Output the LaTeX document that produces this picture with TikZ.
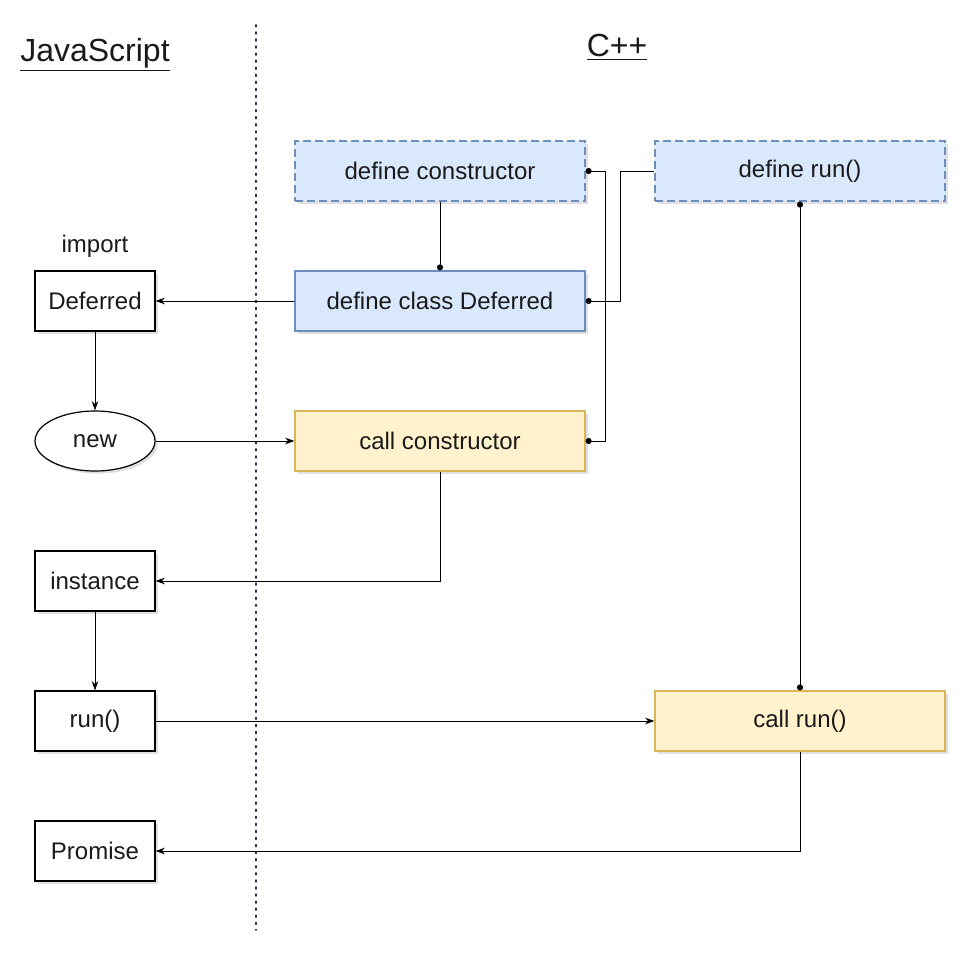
\documentclass[tikz,border=0pt]{standalone}
\usepackage{fontspec}
\setmainfont{Liberation Sans}
\usetikzlibrary{shapes.geometric, arrows.meta, positioning, shadows}
\definecolor{defBlue}{RGB}{218,232,252}
\definecolor{defBlueLine}{RGB}{108,142,191}
\definecolor{callYellow}{RGB}{255,242,204}
\definecolor{callYellowLine}{RGB}{214,182,86}
\definecolor{sideLine}{RGB}{40,40,70}
\definecolor{textDark}{RGB}{26,26,26}

\tikzset{
  boxshadow/.style={drop shadow={shadow xshift=2pt, shadow yshift=-2pt, fill=black, opacity=0.12}},
  jsbox/.style={draw, fill=white, line width=0.9pt, minimum width=90pt, minimum height=45pt,
    inner sep=0pt, text=textDark, font=\fontsize{18}{20}\selectfont, boxshadow},
  defbox/.style={draw=defBlueLine, fill=defBlue, line width=0.9pt, minimum width=217.5pt,
    minimum height=45pt, inner sep=0pt, text=textDark, font=\fontsize{18}{20}\selectfont, boxshadow},
  callbox/.style={defbox, draw=callYellowLine, fill=callYellow},
  arr/.style={-{Stealth[length=7pt, width=5pt]}, line width=0.75pt},
  dotend/.style={-{Circle[length=4.5pt]}, line width=0.75pt},
  dotboth/.style={{Circle[length=4.5pt]}-{Circle[length=4.5pt]}, line width=0.75pt}
}

\begin{document}
\begin{tikzpicture}[x=0.75pt, y=-0.75pt]
  \useasboundingbox (0,0) rectangle (972,960);

  % headings and divider
  \node[text=textDark, font=\fontsize{24}{26}\selectfont] (jshead) at (95,55) {\underline{JavaScript}};
  \node[text=textDark, font=\fontsize{24}{26}\selectfont] (cpphead) at (617,47) {\underline{C++}};
  \draw[sideLine, line width=1.3pt, dash pattern=on 1.3pt off 4pt, line cap=round] (256,25) -- (256,930);

  % JavaScript side
  \node[text=textDark, font=\fontsize{18}{20}\selectfont] (importlbl) at (95,246) {import};
  \node[jsbox] (deferred) at (95,301) {Deferred};
  \node[jsbox, ellipse] (new) at (95,441) {new};
  \node[jsbox] (instance) at (95,581) {instance};
  \node[jsbox] (runjs) at (95,721) {run()};
  \node[jsbox] (promise) at (95,851) {Promise};

  % C++ side
  \node[defbox, dash pattern=on 6pt off 3pt] (dctor) at (440,171) {define constructor};
  \node[defbox, dash pattern=on 6pt off 3pt] (drun) at (800,171) {define run()};
  \node[defbox] (dclass) at (440,301) {define class Deferred};
  \node[callbox] (cctor) at (440,441) {call constructor};
  \node[callbox] (crun) at (800,721) {call run()};

  % connectors
  \draw[dotend] (dctor.south) -- (dclass.north);
  \draw[arr] (dclass.west) -- (deferred.east);
  \draw[arr] (deferred) -- (new);
  \draw[arr] (new) -- (cctor);
  \draw[arr] (cctor.south) |- (instance.east);
  \draw[arr] (instance) -- (runjs);
  \draw[arr] (runjs) -- (crun);
  \draw[arr] (crun.south) |- (promise.east);
  \draw[dotboth] (cctor.east) -- ++(20,0) |- (dctor.east);
  \draw[{Circle[length=4.5pt]}-, line width=0.75pt] (dclass.east) -- ++(35,0) |- (drun.west);
  \draw[dotboth] (drun.south) -- (crun.north);
\end{tikzpicture}
\end{document}
